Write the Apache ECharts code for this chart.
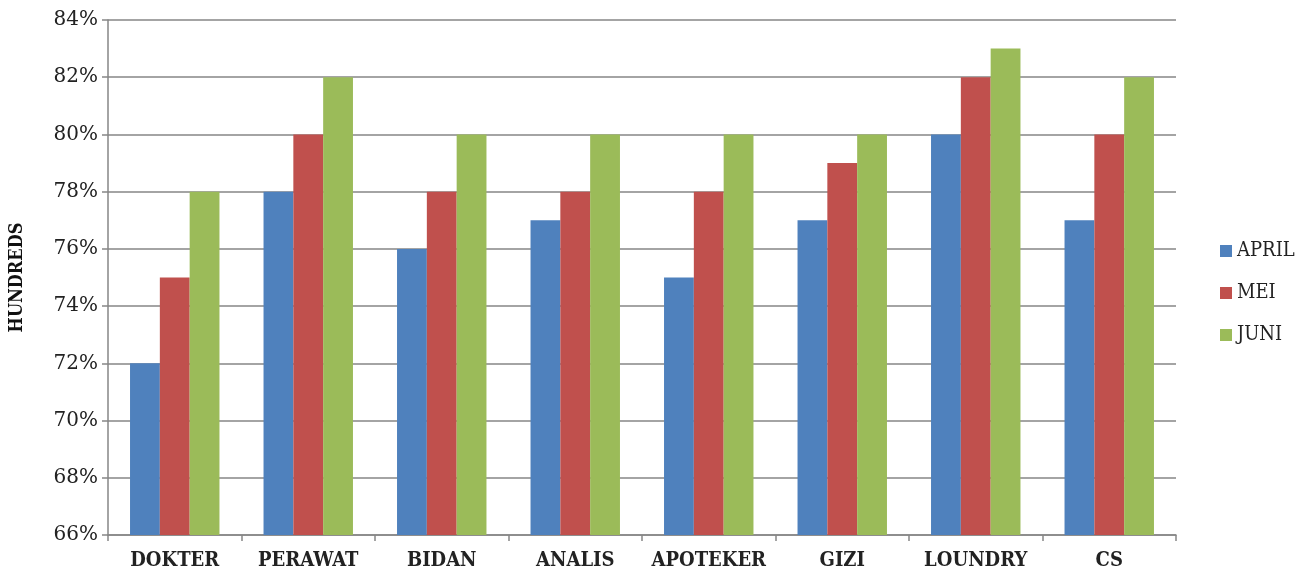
<!DOCTYPE html>
<html>
<head>
  <meta charset="UTF-8">
  <title>Chart</title>
  <script src="https://cdn.jsdelivr.net/npm/echarts@6/dist/echarts.min.js"></script>
  <style>
    html, body { margin: 0; padding: 0; background: #fff; }
    #main { width: 1316px; height: 575px; }
  </style>
</head>
<body>
<div id="main"></div>
<script type="text/javascript">
  // data (percent)
  var categories = ['DOKTER', 'PERAWAT', 'BIDAN', 'ANALIS', 'APOTEKER', 'GIZI', 'LOUNDRY', 'CS'];
  var april = [72, 78, 76, 77, 75, 77, 80, 77];
  var mei = [75, 80, 78, 78, 78, 79, 82, 80];
  var juni = [78, 82, 80, 80, 80, 80, 83, 82];
  var seriesNames = ['APRIL', 'MEI', 'JUNI'];
  var colors = ['#4f81bd', '#c0504d', '#9bbb59'];

  var chart = echarts.init(document.getElementById('main'));
  var serif = '"DejaVu Serif", "Liberation Serif", serif';
  var serifCond = '"DejaVu Serif Condensed", "DejaVu Serif", serif';

  function bar(name, data, color) {
    return {
      name: name,
      type: 'bar',
      data: data,
      barGap: '0%',
      barCategoryGap: '33%',
      itemStyle: { color: color },
      emphasis: { disabled: true }
    };
  }

  chart.setOption({
    animation: false,
    grid: { left: 107, right: 140, top: 20, bottom: 40 },
    legend: {
      orient: 'vertical',
      left: 1215,
      top: 236,
      itemWidth: 12,
      itemHeight: 12,
      itemGap: 22,
      icon: 'rect',
      data: seriesNames,
      textStyle: { fontFamily: serifCond, fontSize: 20, color: '#222' }
    },
    xAxis: {
      type: 'category',
      data: categories,
      axisLine: { lineStyle: { color: '#868686', width: 1.5 } },
      axisTick: { show: true, interval: 0, length: 6, lineStyle: { color: '#868686', width: 1.5 } },
      axisLabel: { interval: 0, fontFamily: serifCond, fontSize: 20, fontWeight: 'bold', color: '#222', margin: 16 }
    },
    yAxis: {
      type: 'value',
      min: 66,
      max: 84,
      interval: 2,
      name: 'HUNDREDS',
      nameLocation: 'middle',
      nameGap: 82,
      nameTextStyle: { fontFamily: serifCond, fontSize: 18, fontWeight: 'bold', color: '#111' },
      axisLine: { show: true, lineStyle: { color: '#868686', width: 1.5 } },
      axisTick: { show: true, length: 6, lineStyle: { color: '#868686', width: 1.5 } },
      axisLabel: { formatter: '{value}%', fontFamily: serif, fontSize: 20, color: '#222', margin: 10 },
      splitLine: { lineStyle: { color: '#868686', width: 1.5 } }
    },
    series: [
      bar(seriesNames[0], april, colors[0]),
      bar(seriesNames[1], mei, colors[1]),
      bar(seriesNames[2], juni, colors[2])
    ]
  });
</script>
</body>
</html>
